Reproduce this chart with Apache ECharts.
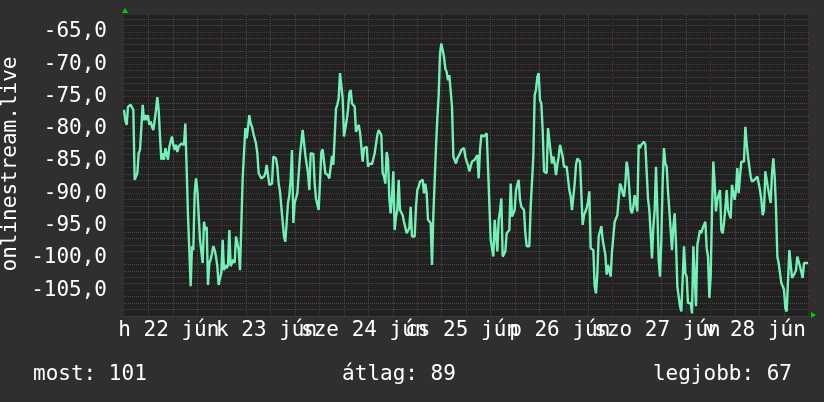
<!DOCTYPE html>
<html>
<head>
<meta charset="utf-8">
<script src="https://cdn.jsdelivr.net/npm/echarts@6/dist/echarts.min.js"></script>
<style>
  html, body { margin: 0; padding: 0; background: #2f2f2f; }
  #chart { width: 824px; height: 402px; }
</style>
</head>
<body>
<div id="chart"></div>
<script>
// values, one every ~20 minutes
var valuesA = [-77.1,-78.7,-79.4,-76.6,-76.5,-76.3,-76.3,-77.1,-87.9,-87.9,
  -86.9,-83.8,-83.3,-79.9,-76.3,-78.7,-77.9,-78.7,-77.9,-79.4,
  -78.9,-79.7,-80.2,-78.7,-77.1,-75.1,-77.1,-81.2,-84.8,-83.8,
  -84.8,-83.0,-82.8,-84.8,-82.8,-82.0,-81.2,-82.5,-83.3,-82.5,
  -83.6,-82.8,-82.5,-82.3,-82.3,-82.5,-79.2,-79.2,-93.4,-93.6,
  -104.4,-98.2,-98.8,-90.0,-87.7,-89.5,-89.5,-97.2,-97.2,-100.8,
  -94.4,-95.7,-95.2,-104.2,-100.8,-100.3,-99.3,-98.2,-98.8,-99.8,
  -101.3,-104.2,-103.1,-102.4,-97.2,-101.9,-101.1,-101.6,-101.1,-95.7,
  -101.3,-101.1,-100.3,-100.8,-96.7,-97.7,-98.8,-101.9,-101.9,-87.7,
  -87.4,-79.9,-81.5,-79.9,-77.9,-79.2,-79.7,-80.7,-81.0,-82.3,
  -83.8,-86.9,-87.2,-87.7,-87.4,-87.4,-86.9,-85.6,-85.9,-88.7,
  -88.5,-88.5,-84.3,-84.2,-84.6,-85.9,-88.5,-89.7,-92.1,-92.1,
  -96.7,-97.5,-97.2,-91.5,-90.3,-87.9,-83.3,-94.6,-91.5,-91.5,
  -90.0,-90.0,-84.1,-83.8,-80.2,-80.2,-84.1,-84.1,-86.9,-89.5,
  -83.8,-83.8,-83.9,-88.5,-90.8,-91.0,-92.6,-88.2,-83.6,-83.2,
  -83.0,-86.9,-86.9,-87.2,-87.7,-87.7,-84.2,-85.6,-85.5,-76.9,
  -76.3,-75.3,-71.4,-71.7,-75.3,-81.2,-81.2,-78.7,-77.1,-74.5];
var valuesB = [-74.0,-76.1,-76.3,-76.6,-80.5,-80.2,-79.4,-80.5,-82.8,-85.1,
  -83.0,-82.8,-82.8,-85.9,-85.4,-85.6,-85.5,-85.6,-83.8,-83.6,
  -81.0,-80.2,-80.2,-81.0,-86.9,-87.4,-88.5,-83.6,-84.8,-90.8,
  -93.1,-90.5,-86.6,-95.7,-93.6,-92.6,-87.9,-92.6,-92.8,-93.4,
  -94.4,-94.6,-96.2,-95.9,-95.4,-92.1,-96.7,-96.7,-96.7,-92.1,
  -89.5,-89.0,-88.2,-87.9,-87.9,-90.0,-88.5,-90.0,-94.1,-94.1,
  -94.6,-101.1,-93.4,-93.1,-82.8,-78.4,-74.8,-68.4,-66.8,-66.8,
  -68.9,-70.7,-71.2,-72.5,-71.7,-71.7,-76.6,-84.3,-84.3,-85.4,
  -84.6,-84.3,-83.8,-83.3,-83.0,-83.0,-84.3,-85.1,-85.6,-86.6,
  -86.6,-85.1,-84.8,-84.8,-85.1,-84.1,-87.7,-83.3,-81.0,-81.1,
  -81.2,-81.2,-80.7,-85.9,-85.9,-97.2,-97.2,-99.8,-94.1,-94.1,
  -99.0,-94.1,-92.8,-90.8,-99.8,-99.5,-99.0,-96.2,-96.2,-95.7,
  -88.5,-93.6,-93.6,-92.6,-89.5,-89.5,-87.9,-91.0,-92.1,-92.3,
  -92.6,-96.2,-98.2,-98.2,-98.2,-92.1,-92.1,-84.3,-74.8,-74.0,
  -72.0,-71.4,-75.6,-76.1,-80.2,-86.6,-86.9,-86.9,-79.9,-81.8,
  -82.0,-85.4,-84.3,-85.4,-87.2,-85.6,-84.3,-82.5,-82.8,-84.3,
  -85.9,-86.1,-85.9,-85.9,-89.5,-90.5,-92.6,-92.6,-88.5,-85.6,
  -84.6,-84.8];
var valuesC = [-85.1,-85.4,-94.9,-93.4,-93.1,-92.3,-91.3,-89.7,-98.5,-98.5,
  -98.8,-104.4,-105.5,-102.4,-96.7,-96.7,-95.1,-97.2,-97.2,-99.5,
  -102.6,-101.1,-101.3,-102.9,-99.0,-99.0,-94.4,-93.9,-93.4,-93.6,
  -88.5,-89.0,-90.0,-90.5,-88.5,-85.1,-86.4,-89.5,-92.6,-93.1,
  -92.1,-90.3,-91.5,-92.8,-82.5,-83.0,-82.5,-82.8,-82.0,-82.5,
  -82.8,-90.8,-92.6,-96.2,-100.1,-95.2,-92.6,-85.9,-92.6,-100.3,
  -102.9,-97.2,-88.2,-83.0,-85.4,-85.9,-89.7,-92.6,-95.7,-98.8,
  -95.2,-93.1,-97.7,-104.4,-104.7,-107.5,-108.3,-108.3,-98.2,-102.4,
  -102.9,-107.0,-106.8,-107.0,-108.6,-98.2,-98.2,-107.5,-98.0,-98.0,
  -95.7,-96.2,-95.4,-95.7,-94.4,-98.5,-99.8,-106.2,-102.9,-92.8,
  -85.1,-88.5,-92.8,-91.0,-91.3,-89.5,-95.7,-96.2,-94.6,-92.3,
  -89.5,-92.6,-92.6,-93.9,-88.7,-88.5,-91.0,-89.5,-86.1,-90.0,
  -87.4,-85.1,-84.8,-85.1,-79.7,-82.3,-84.3,-85.9,-87.4,-88.2,
  -88.2,-87.9,-88.2,-87.4,-87.4,-89.5,-91.0,-93.4,-92.6,-86.6,
  -86.9,-89.2,-89.2,-91.5,-86.9,-84.6,-87.4,-92.3,-99.8,-100.8,
  -101.1,-103.9,-104.2,-104.9,-107.8,-108.3,-108.6,-98.8,-98.8,-103.1,
  -103.1,-102.4,-101.9,-99.8,-100.1,-101.3,-101.6,-103.1,-100.8,-100.8,
  -100.8,-100.8];

// hours counted from monday 00:00
var startHour = 1;
var stepHour = 0.3274;

var dayNames = ['h', 'k', 'sze', 'cs', 'p', 'szo', 'v'];
var dayDates = [22, 23, 24, 25, 26, 27, 28];
var monthName = 'jún';

var legendNow = 'most: 101';
var legendAvg = 'átlag: 89';
var legendBest = 'legjobb: 67';
var axisTitle = 'onlinestream.live';

var values = valuesA.concat(valuesB, valuesC);
var data = values.map(function (v, i) { return [startHour + i * stepHour, v]; });

var font = 'DejaVu Sans Mono';
var gray = '#484848';
var red = '#5e2c2c';
var none = 'rgba(0,0,0,0)';

// one colour per hour tick, starting at hour 1
var xColors = [];
for (var i = 0; i < 24; i++) {
  var h = (i + 1) % 24;
  xColors.push(h === 0 ? red : (h % 6 === 0 ? gray : none));
}
// one colour per unit tick, starting at -109
var yColors = [gray, gray, gray, gray, red];

var myChart = echarts.init(document.getElementById('chart'));
var option = {
  backgroundColor: '#2f2f2f',
  animation: false,
  grid: {
    left: 124,
    top: 15,
    width: 685,
    height: 301,
    show: true,
    backgroundColor: '#212121',
    borderWidth: 0
  },
  xAxis: {
    type: 'value',
    min: 1,
    max: 169.2,
    interval: 1,
    axisLine: { show: false },
    axisTick: { show: false },
    axisLabel: {
      color: '#ffffff',
      fontFamily: font,
      fontSize: 21,
      margin: 4,
      formatter: function (h) {
        if (h % 24 !== 12) return '';
        var d = (h - 12) / 24;
        return dayNames[d] + ' ' + dayDates[d] + ' ' + monthName;
      }
    },
    splitLine: {
      show: true,
      showMinLine: false,
      showMaxLine: false,
      lineStyle: { color: xColors, width: 1, type: [1, 1] }
    }
  },
  yAxis: {
    type: 'value',
    min: -109,
    max: -62.4,
    interval: 1,
    axisLine: { show: false },
    axisTick: { show: false },
    axisLabel: {
      color: '#ffffff',
      fontFamily: font,
      fontSize: 21,
      margin: 17,
      formatter: function (v) {
        if (v % 5 !== 0) return '';
        return v.toFixed(1).replace('.', ',');
      }
    },
    splitLine: {
      show: true,
      showMaxLine: false,
      lineStyle: { color: yColors, width: 1, type: [1, 1] }
    }
  },
  series: [{
    type: 'line',
    data: data,
    showSymbol: false,
    silent: true,
    lineStyle: { color: '#72f0b6', width: 2.4 },
    itemStyle: { color: '#72f0b6' }
  }],
  graphic: [
    {
      type: 'text', x: 11, y: 164, rotation: Math.PI / 2,
      style: { text: axisTitle, fill: '#ffffff', font: '21px "DejaVu Sans Mono"', align: 'center', verticalAlign: 'middle' }
    },
    {
      type: 'text', x: 33, y: 375,
      style: { text: legendNow, fill: '#ffffff', font: '21px "DejaVu Sans Mono"', align: 'left', verticalAlign: 'middle' }
    },
    {
      type: 'text', x: 399, y: 375,
      style: { text: legendAvg, fill: '#ffffff', font: '21px "DejaVu Sans Mono"', align: 'center', verticalAlign: 'middle' }
    },
    {
      type: 'text', x: 792, y: 375,
      style: { text: legendBest, fill: '#ffffff', font: '21px "DejaVu Sans Mono"', align: 'right', verticalAlign: 'middle' }
    },
    {
      type: 'polygon', shape: { points: [[122, 13], [128, 13], [125, 8]] },
      style: { fill: '#00d000' }
    },
    {
      type: 'polygon', shape: { points: [[811, 312], [811, 318], [816, 315]] },
      style: { fill: '#00d000' }
    }
  ]
};
option && myChart.setOption(option);
</script>
</body>
</html>
